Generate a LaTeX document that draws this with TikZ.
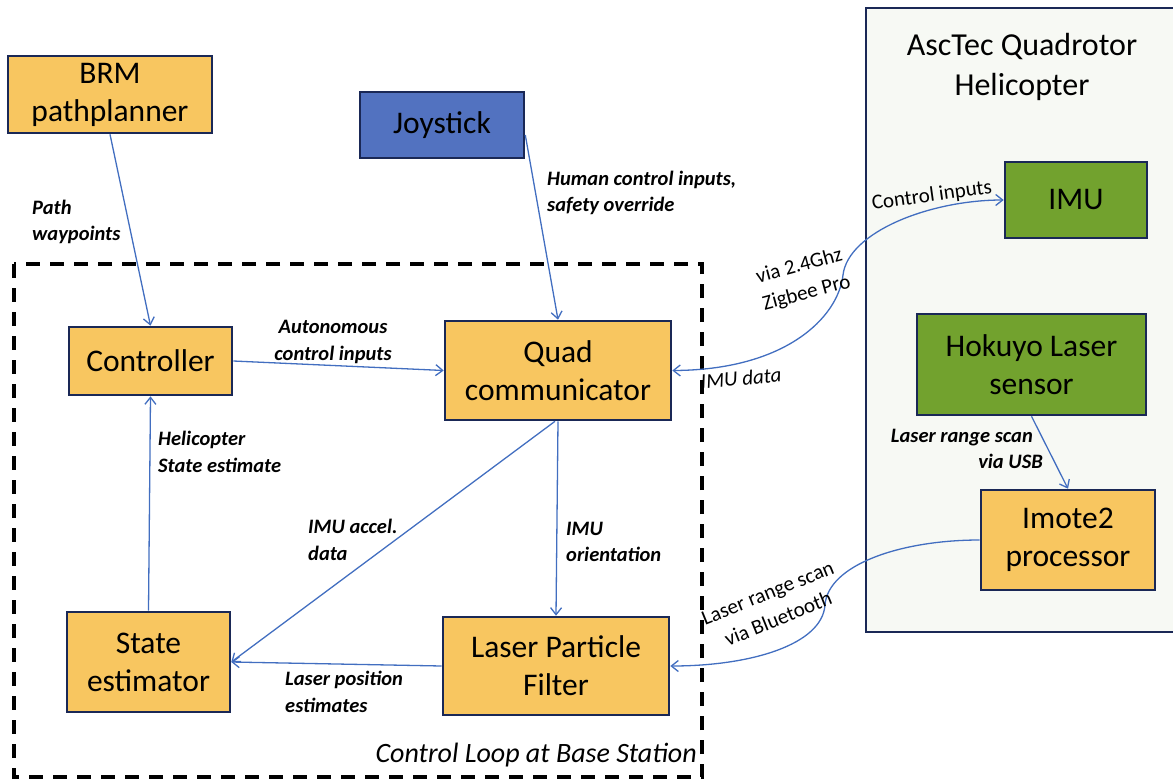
\documentclass[tikz,border=0pt]{standalone}
\usepackage{fontspec}
\setmainfont{Carlito}
\usetikzlibrary{arrows.meta}

\definecolor{boxorange}{RGB}{248,198,96}
\definecolor{boxblue}{RGB}{82,114,192}
\definecolor{boxgreen}{RGB}{114,162,46}
\definecolor{boxedge}{RGB}{26,40,86}
\definecolor{wire}{RGB}{66,110,192}
\definecolor{heliback}{RGB}{247,249,244}

\tikzset{
  block/.style={draw=boxedge, line width=2.6pt, inner sep=0pt, align=center,
                font=\fontsize{31.5}{38}\selectfont},
  orangebox/.style={block, fill=boxorange},
  bluebox/.style={block, fill=boxblue},
  greenbox/.style={block, fill=boxgreen},
  conn/.style={draw=wire, line width=1.3pt, -{Straight Barb[length=7pt,width=11pt]}},
  biconn/.style={draw=wire, line width=1.3pt, {Straight Barb[length=7pt,width=11pt]}-{Straight Barb[length=7pt,width=11pt]}},
  lbl/.style={inner sep=0pt, font=\fontsize{20.5}{26.5}\selectfont\bfseries\itshape},
  wlbl/.style={inner sep=0pt, align=center, font=\fontsize{21}{28}\selectfont},
  loopbox/.style={draw=black, line width=3.2pt, dash pattern=on 14pt off 10pt}
}

\begin{document}
\begin{tikzpicture}[x=1pt,y=-1pt]
\useasboundingbox (0,0) rectangle (1173,782);

% helicopter enclosure (runs off the right edge)
\fill[heliback] (866,8) rectangle (1190,632);
\draw[boxedge, line width=2.6pt] (1190,8) -- (866,8) -- (866,632) -- (1190,632);
\node[align=center, inner sep=0pt, font=\fontsize{32}{40}\selectfont] (title) at (1022,67)
  {AscTec Quadrotor\\Helicopter};

% base-station control loop
\draw[loopbox] (14,264) rectangle (702,777);
\node[inner sep=0pt, anchor=east, font=\fontsize{28}{32}\selectfont\itshape] (looplbl) at (697,755)
  {Control Loop at Base Station};

% blocks
\node[orangebox, minimum width=204pt, minimum height=77pt] (brm) at (110,94.5) {BRM\\pathplanner};
\node[bluebox, minimum width=164pt, minimum height=66pt] (joy) at (442,125) {Joystick};
\node[orangebox, minimum width=163pt, minimum height=68pt] (ctrl) at (150.5,361) {Controller};
\node[orangebox, minimum width=226pt, minimum height=99pt] (quad) at (558,370.5) {Quad\\communicator};
\node[orangebox, minimum width=163pt, minimum height=100pt] (state) at (148.5,662) {State\\estimator};
\node[orangebox, minimum width=226pt, minimum height=98pt] (lpf) at (556,666) {Laser Particle\\Filter};
\node[greenbox, minimum width=142pt, minimum height=76pt] (imu) at (1076,200) {IMU};
\node[greenbox, minimum width=229pt, minimum height=101pt] (hok) at (1031.5,364.5) {Hokuyo Laser\\sensor};
\node[orangebox, minimum width=174pt, minimum height=100pt] (imote) at (1068,540) {Imote2\\processor};

% connectors
\draw[conn] (brm.south) -- (ctrl.north);
\draw[conn] ([yshift=-10pt]joy.east) -- (quad.north);
\draw[conn] (ctrl.east) -- (quad.west);
\draw[conn] (state.north) -- (ctrl.south);
\draw[conn] (quad.south) -- (lpf.north);
\draw[conn] ([xshift=-3pt]quad.south) -- (state.east);
\draw[conn] (lpf.west) -- (state.east);
\draw[conn] (hok.south) -- (imote.north);
\draw[conn] (imote.west) .. controls (900,540) and (828,565) .. (825,605)
                         .. controls (822,645) and (750,666) .. (lpf.east);
\draw[biconn] (quad.east) .. controls (785,370) and (838,318) .. (843,275)
                          .. controls (848,232) and (930,200) .. (imu.west);

% connector labels
\node[lbl, align=left, anchor=west] (lpath) at (32,222) {Path\\waypoints};
\node[lbl, align=center] (lauto) at (333,342) {Autonomous\\control inputs};
\node[lbl, align=left, anchor=west] (lhuman) at (547,193) {Human control inputs,\\safety override};
\node[lbl, align=left, anchor=west] (lheli) at (158,452) {Helicopter\\State estimate};
\node[lbl, align=left, anchor=west] (laccel) at (308,540) {IMU accel.\\data};
\node[lbl, align=left, anchor=west] (lpos) at (285,692) {Laser position\\estimates};
\node[lbl, align=left, anchor=west] (lorient) at (566,542) {IMU\\orientation};
\node[lbl, align=right, anchor=east] (lusb) at (1043,449) {Laser range scan\hspace*{10pt}\\via USB};

\node[wlbl, rotate=8] (lctrlin) at (932,196) {Control inputs};
\node[wlbl, rotate=15] (lzig) at (803,280) {via 2.4Ghz\\Zigbee Pro};
\node[wlbl, rotate=5, font=\fontsize{21}{26}\selectfont\itshape] (limu) at (741,378) {IMU data};
\node[wlbl, rotate=22] (lbt) at (773,606) {Laser range scan\\via Bluetooth};
\end{tikzpicture}
\end{document}
